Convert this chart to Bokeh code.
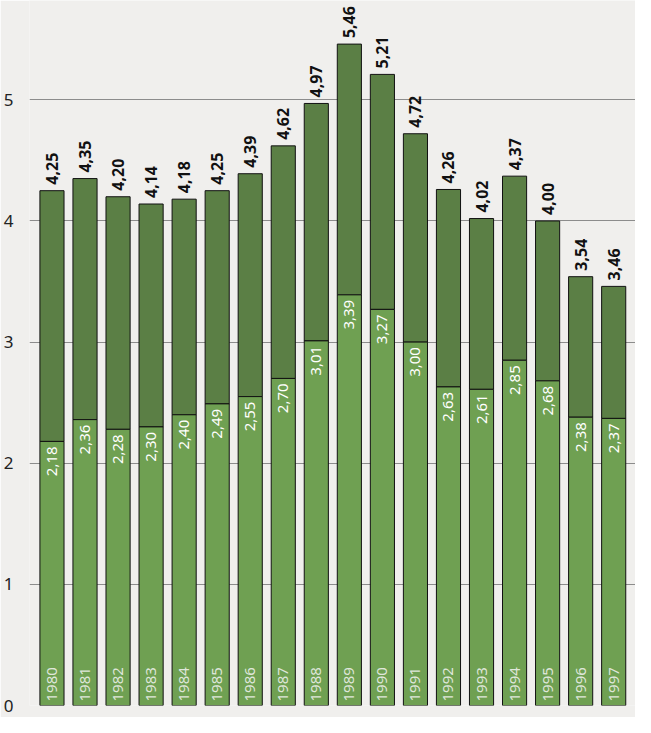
import math
from bokeh.plotting import figure
from bokeh.models import ColumnDataSource, FixedTicker, Range1d
from bokeh.core.properties import value
from bokeh.embed import file_html
from bokeh.resources import INLINE

years = ["1980", "1981", "1982", "1983", "1984", "1985", "1986", "1987", "1988",
         "1989", "1990", "1991", "1992", "1993", "1994", "1995", "1996", "1997"]
lower_values = [2.18, 2.36, 2.28, 2.30, 2.40, 2.49, 2.55, 2.70, 3.01,
                3.39, 3.27, 3.00, 2.63, 2.61, 2.85, 2.68, 2.38, 2.37]
total_values = [4.25, 4.35, 4.20, 4.14, 4.18, 4.25, 4.39, 4.62, 4.97,
                5.46, 5.21, 4.72, 4.26, 4.02, 4.37, 4.00, 3.54, 3.46]
y_ticks = [0, 1, 2, 3, 4, 5]

BG = "#f0efed"
DARK = "#5b7f45"
LIGHT = "#6fa052"
FONT = "Noto Sans"

def fmt(v):
    return f"{v:.2f}".replace(".", ",")

xs = list(range(len(years)))
src = ColumnDataSource(dict(
    x=xs,
    zero=[0] * len(xs),
    low=lower_values,
    total=total_values,
    year=years,
    low_txt=[fmt(v) for v in lower_values],
    total_txt=[fmt(v) for v in total_values],
))

p = figure(width=635, height=717, output_backend="svg", toolbar_location=None,
           x_range=Range1d(-0.68, 17.66), y_range=Range1d(0, 5.82),
           x_axis_location=None, background_fill_color=BG, border_fill_color=BG,
           outline_line_color=None, min_border_left=0, min_border_right=0,
           min_border_top=0, min_border_bottom=12)

p.xgrid.grid_line_color = None
p.ygrid.grid_line_color = "#8c8c8c"
p.ygrid.grid_line_width = 1
p.yaxis.ticker = FixedTicker(ticks=y_ticks)
p.yaxis.axis_line_color = None
p.yaxis.major_tick_line_color = None
p.yaxis.minor_tick_line_color = None
p.yaxis.major_label_text_font = FONT
p.yaxis.major_label_text_font_size = "17px"
p.yaxis.major_label_text_color = "#222222"
p.yaxis.major_label_standoff = 10

W = 0.73
p.vbar(x="x", bottom="low", top="total", width=W, source=src,
       fill_color=DARK, line_color="#111111", line_width=1)
p.vbar(x="x", bottom="zero", top="low", width=W, source=src,
       fill_color=LIGHT, line_color="#111111", line_width=1)

ang = math.pi / 2
p.text(x="x", y="total", text="total_txt", source=src, angle=ang,
       text_align="left", text_baseline="middle", x_offset=0, y_offset=-6,
       text_font=value(FONT), text_font_style="bold", text_font_size="16px",
       text_color="#111111")
p.text(x="x", y="low", text="low_txt", source=src, angle=ang,
       text_align="right", text_baseline="middle", y_offset=5,
       text_font=value(FONT), text_font_size="15px", text_color="#ffffff")
p.text(x="x", y="zero", text="year", source=src, angle=ang,
       text_align="left", text_baseline="middle", y_offset=-4,
       text_font=value(FONT), text_font_size="15px", text_color="#dfe6da")

open("out.html", "w").write(file_html(p, INLINE))
